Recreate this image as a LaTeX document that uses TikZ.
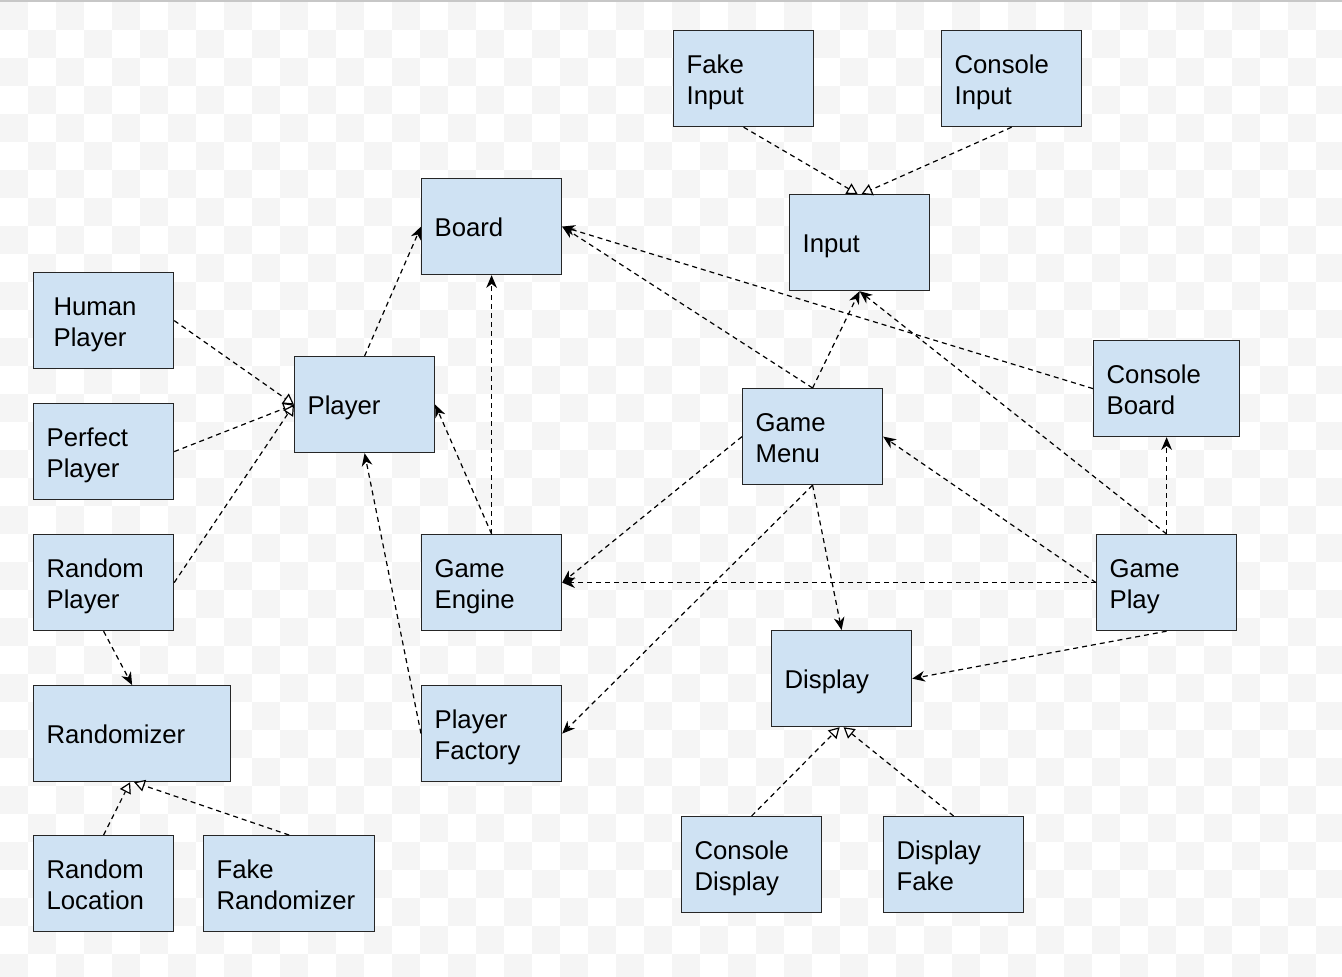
\documentclass[tikz,border=0pt]{standalone}
\usepackage{fontspec}
\setmainfont{Liberation Sans}
\usetikzlibrary{arrows.meta}

\definecolor{boxblue}{HTML}{CFE2F3}
\definecolor{checkgray}{HTML}{F5F5F5}

\tikzset{
    cls/.style={draw=black!85, fill=boxblue, line width=0.9pt, anchor=north west,
        align=left, inner xsep=9.75pt, inner ysep=0pt, minimum height=72pt,
        text width=#1, font=\fontsize{19.3pt}{23pt}\selectfont,
        execute at begin node={\rule{0pt}{19.8pt}},
        execute at end node={\rule[-4.5pt]{0pt}{4.5pt}}},
    cls/.default=85.5pt,
    dep/.style={line width=0.9pt, dash pattern=on 3.75pt off 3pt,
        -{Stealth[length=9.5pt,width=8pt,inset=3pt]}},
    impl/.style={line width=0.9pt, dash pattern=on 3.75pt off 3pt,
        -{Triangle[open,length=8pt,width=9pt,fill=white]}}
}

\begin{document}
\begin{tikzpicture}[x=0.75pt,y=-0.75pt]
            \useasboundingbox (0,0) rectangle (1342,976);
            % checkered background
            \begin{scope}
                \clip (0,0) rectangle (1342,976);
                \fill[white] (0,0) rectangle (1342,976);
                \foreach \i in {0,2,...,46}
                    \foreach \j in {0,2,...,34} {
                        \fill[checkgray] (28*\i,2+28*\j) rectangle ++(28,28);
                        \fill[checkgray] (28*\i+28,30+28*\j) rectangle ++(28,28);
                    }
                \fill[black!22] (0,0) rectangle (1342,2);
            \end{scope}

            % classes
            \node[cls] (fakein) at (673,30) {Fake\\Input};
            \node[cls] (coninput) at (941,30) {Console\\Input};
            \node[cls] (board) at (421,178) {Board};
            \node[cls] (input) at (789,194) {Input};
            \node[cls=75pt,inner xsep=15pt] (human) at (33,272) {Human\\Player};
            \node[cls] (player) at (294,356) {Player};
            \node[cls=90pt] (conboard) at (1093,340) {Console\\Board};
            \node[cls] (perfect) at (33,403) {Perfect\\Player};
            \node[cls] (menu) at (742,388) {Game\\Menu};
            \node[cls] (randplayer) at (33,534) {Random\\Player};
            \node[cls] (engine) at (421,534) {Game\\Engine};
            \node[cls] (gameplay) at (1096,534) {Game\\Play};
            \node[cls] (display) at (771,630) {Display};
            \node[cls=128.25pt] (randomizer) at (33,685) {Randomizer};
            \node[cls] (factory) at (421,685) {Player\\Factory};
            \node[cls] (condisplay) at (681,816) {Console\\Display};
            \node[cls] (dispfake) at (883,816) {Display\\Fake};
            \node[cls] (randloc) at (33,835) {Random\\Location};
            \node[cls=108.75pt] (fakerand) at (203,835) {Fake\\Randomizer};

            % realisations
            \draw[impl] (fakein.south) -- ([xshift=-1.5pt]input.north);
            \draw[impl] (coninput.south) -- ([xshift=1.5pt]input.north);
            \draw[impl] (human.east) -- (player.west);
            \draw[impl] (perfect.east) -- (player.west);
            \draw[impl] (randplayer.east) -- (player.west);
            \draw[impl] (randloc.north) -- ([xshift=-1.5pt]randomizer.south);
            \draw[impl] (fakerand.north) -- ([xshift=1.5pt]randomizer.south);
            \draw[impl] (condisplay.north) -- ([xshift=-1.5pt]display.south);
            \draw[impl] (dispfake.north) -- ([xshift=1.5pt]display.south);

            % dependencies
            \draw[dep] (player.north) -- (board.west);
            \draw[dep] (engine.north) -- (board.south);
            \draw[dep] (engine.north) -- (player.east);
            \draw[dep] (factory.west) -- (player.south);
            \draw[dep] (menu.north) -- (board.east);
            \draw[dep] (conboard.west) -- (board.east);
            \draw[dep] (menu.north) -- (input.south);
            \draw[dep] (gameplay.north) -- (input.south);
            \draw[dep] (gameplay.north) -- (conboard.south);
            \draw[dep] (menu.west) -- (engine.east);
            \draw[dep] (gameplay.west) -- (engine.east);
            \draw[dep] (gameplay.west) -- (menu.east);
            \draw[dep] (menu.south) -- (factory.east);
            \draw[dep] (menu.south) -- (display.north);
            \draw[dep] (gameplay.south) -- (display.east);
            \draw[dep] (randplayer.south) -- (randomizer.north);
        \end{tikzpicture}
\end{document}
